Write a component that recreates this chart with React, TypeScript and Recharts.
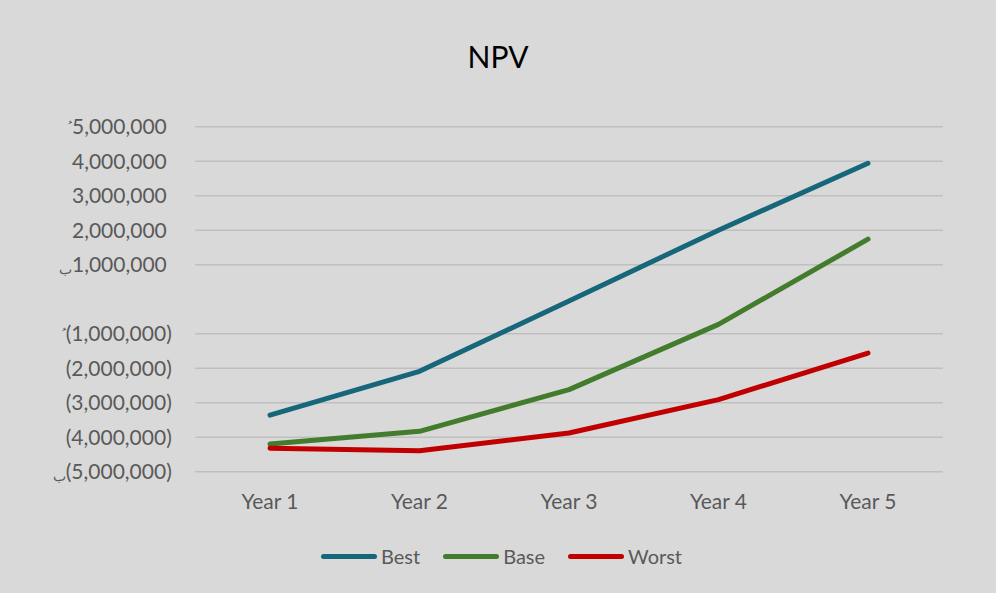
import { CartesianGrid, Line, LineChart, XAxis, YAxis } from 'recharts'

const years = ['Year 1', 'Year 2', 'Year 3', 'Year 4', 'Year 5']
const best = [-3360000, -2090000, -50000, 2000000, 3940000]
const base = [-4200000, -3830000, -2620000, -730000, 1740000]
const worst = [-4320000, -4390000, -3880000, -2910000, -1560000]

const yTicks = [-5000000, -4000000, -3000000, -2000000, -1000000, 0, 1000000, 2000000, 3000000, 4000000, 5000000]
// marks that sit in front of some labels (broken currency sign in the source)
const topMark: Record<number, string> = { 5000000: '\uFE78', [-1000000]: '\uFE78' }
const lowMark: Record<number, string> = { 1000000: '\uFE8F', [-5000000]: '\uFE8F' }

const series = [
	{ key: 'best', name: 'Best', color: '#17677A' },
	{ key: 'base', name: 'Base', color: '#437C2C' },
	{ key: 'worst', name: 'Worst', color: '#C00000' },
]

const data = years.map((year, i) => ({
	year,
	best: best[i],
	base: base[i],
	worst: worst[i],
}))

const FONT = 'Lato, "Open Sans", sans-serif'
const TEXT = '#595959'

function fmt(v: number): string {
	if (v === 0) return ''
	const s = Math.abs(v).toLocaleString('en-US')
	return v < 0 ? `(${s})` : s
}

function YTick(props: any) {
	const { x, y, payload } = props
	const v = payload.value as number
	const label = fmt(v)
	if (!label) return null
	const mark = topMark[v] ?? lowMark[v]
	const isTop = topMark[v] != null
	return (
		<text
			x={v < 0 ? x : x - 5}
			y={y + 7.5}
			textAnchor='end'
			fill={TEXT}
			fontSize={21}
			fontFamily={FONT}
		>
			{mark && (
				<tspan fontSize={isTop ? 13 : 14} dy={isTop ? -2 : 2}>
					{mark + '\u200E'}
				</tspan>
			)}
			<tspan dy={mark ? (isTop ? 2 : -2) : 0}>{'\u200E' + label}</tspan>
		</text>
	)
}

export default function App() {
	return (
		<div style={{ position: 'relative', width: 996, height: 593, background: '#d9d9d9' }}>
			<style>{'body{margin:0}'}</style>
			<div
				style={{
					position: 'absolute',
					top: 41,
					left: 0,
					width: 996,
					textAlign: 'center',
					fontFamily: FONT,
					fontSize: 30,
					lineHeight: '30px',
					color: '#000',
				}}
			>
				NPV
			</div>
			<LineChart
				width={996}
				height={593}
				data={data}
				margin={{ top: 126.7, right: 53.25, bottom: 91.3, left: 0 }}
			>
				<CartesianGrid
					stroke='#bfbfbf'
					strokeWidth={1.5}
					vertical={false}
					horizontalValues={yTicks.filter((t) => t !== 0)}
				/>
				<XAxis
					dataKey='year'
					axisLine={false}
					tickLine={false}
					tickSize={0}
					tickMargin={22}
					height={30}
					padding={{ left: 74.75, right: 74.75 }}
					tick={{ fill: TEXT, fontSize: 21, fontFamily: FONT }}
				/>
				<YAxis
					domain={[-5000000, 5000000]}
					ticks={yTicks}
					interval={0}
					width={195.25}
					axisLine={false}
					tickLine={false}
					tickSize={0}
					tickMargin={23.5}
					tick={<YTick />}
				/>
				{series.map((s) => (
					<Line
						key={s.key}
						type='linear'
						dataKey={s.key}
						name={s.name}
						stroke={s.color}
						strokeWidth={5}
						strokeLinecap='round'
						strokeLinejoin='round'
						dot={false}
						activeDot={false}
						isAnimationActive={false}
					/>
				))}
			</LineChart>
			<div
				style={{
					position: 'absolute',
					top: 543,
					left: 0,
					width: 996,
					display: 'flex',
					justifyContent: 'center',
					gap: 23,
					paddingLeft: 7,
					boxSizing: 'border-box',
					fontFamily: FONT,
					fontSize: 20,
					color: TEXT,
				}}
			>
				{series.map((s) => (
					<div key={s.key} style={{ display: 'flex', alignItems: 'center', gap: 4, height: 26 }}>
						<span
							style={{
								display: 'inline-block',
								width: 56,
								height: 5,
								borderRadius: 3,
								background: s.color,
							}}
						/>
						<span>{s.name}</span>
					</div>
				))}
			</div>
		</div>
	)
}
